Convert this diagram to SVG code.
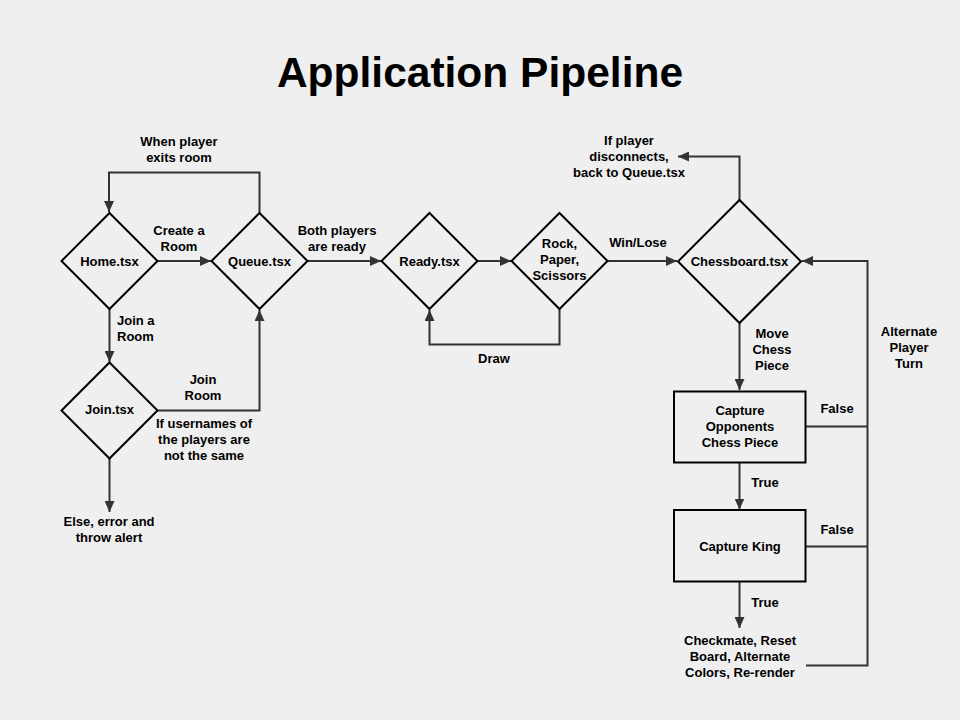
<svg xmlns="http://www.w3.org/2000/svg" width="960" height="720" viewBox="0 0 960 720">
<style>
text{font-family:"Liberation Sans",Arial,sans-serif;font-weight:bold;font-size:13px;fill:#000;text-anchor:middle}
.title{font-size:42.5px}
.node{fill:none;stroke:#000;stroke-width:2}
.c{fill:none;stroke:#333;stroke-width:2}
.lbl text{fill:#000}
</style>
<defs>
<marker id="a" markerUnits="userSpaceOnUse" markerWidth="12" markerHeight="10" refX="11" refY="5" orient="auto">
<path d="M0,0 L11,5 L0,10 Z" fill="#333"/>
</marker>
</defs>
<rect width="960" height="720" fill="#efefef"/>
<text class="title" x="480" y="87">Application Pipeline</text>

<g id="connectors">
<path class="c" d="M259.5,213 V172.5 H109 V212" marker-end="url(#a)"/>
<path class="c" d="M157.5,261 H211" marker-end="url(#a)"/>
<path class="c" d="M307.5,261 H381" marker-end="url(#a)"/>
<path class="c" d="M109.5,309 V362" marker-end="url(#a)"/>
<path class="c" d="M157.5,410.5 H259.5 V310" marker-end="url(#a)"/>
<path class="c" d="M109.5,458.5 V512" marker-end="url(#a)"/>
<path class="c" d="M477.5,261 H511" marker-end="url(#a)"/>
<path class="c" d="M559.5,309 V344.5 H429.5 V310" marker-end="url(#a)"/>
<path class="c" d="M607.5,261 H677" marker-end="url(#a)"/>
<path class="c" d="M739.5,200 V156.5 H678" marker-end="url(#a)"/>
<path class="c" d="M739.5,323 V390" marker-end="url(#a)"/>
<path class="c" d="M739.5,462.5 V509.5" marker-end="url(#a)"/>
<path class="c" d="M739.5,582 V628" marker-end="url(#a)"/>
<path class="c" d="M806,426.5 H867.5"/>
<path class="c" d="M806,546.5 H867.5"/>
<path class="c" d="M806,665.5 H867.5 V261 H802" marker-end="url(#a)"/>
</g>

<g id="labels" class="lbl">
<text x="179" y="146">When player</text>
<text x="179" y="162">exits room</text>
<text x="179" y="235">Create a</text>
<text x="179" y="251">Room</text>
<text x="337" y="235">Both players</text>
<text x="337" y="251">are ready</text>
<text x="117" y="325" style="text-anchor:start">Join a</text>
<text x="117" y="341" style="text-anchor:start">Room</text>
<text x="203" y="384">Join</text>
<text x="203" y="400">Room</text>
<text x="204" y="428">If usernames of</text>
<text x="204" y="444">the players are</text>
<text x="204" y="460">not the same</text>
<text x="109" y="526">Else, error and</text>
<text x="109" y="542">throw alert</text>
<text x="494" y="363">Draw</text>
<text x="638" y="247">Win/Lose</text>
<text x="629" y="145">If player</text>
<text x="629" y="161">disconnects,</text>
<text x="629" y="177">back to Queue.tsx</text>
<text x="772" y="338">Move</text>
<text x="772" y="354">Chess</text>
<text x="772" y="370">Piece</text>
<text x="909" y="336">Alternate</text>
<text x="909" y="352">Player</text>
<text x="909" y="368">Turn</text>
<text x="837" y="413">False</text>
<text x="837" y="534">False</text>
<text x="765" y="487">True</text>
<text x="765" y="607">True</text>
<text x="740" y="645">Checkmate, Reset</text>
<text x="740" y="661">Board, Alternate</text>
<text x="740" y="677">Colors, Re-render</text>
</g>

<g id="home">
<path class="node" d="M109.5,213 L157.5,261 L109.5,309 L61.5,261 Z"/>
<text x="109.5" y="265.5">Home.tsx</text>
</g>
<g id="queue">
<path class="node" d="M259.5,213 L307.5,261 L259.5,309 L211.5,261 Z"/>
<text x="259.5" y="265.5">Queue.tsx</text>
</g>
<g id="join">
<path class="node" d="M109.5,362.5 L157.5,410.5 L109.5,458.5 L61.5,410.5 Z"/>
<text x="109.5" y="414">Join.tsx</text>
</g>
<g id="ready">
<path class="node" d="M429.5,213 L477.5,261 L429.5,309 L381.5,261 Z"/>
<text x="429.5" y="265.5">Ready.tsx</text>
</g>
<g id="rps">
<path class="node" d="M559.5,213 L607.5,261 L559.5,309 L511.5,261 Z"/>
<text x="559.5" y="248">Rock,</text>
<text x="559.5" y="264">Paper,</text>
<text x="559.5" y="280">Scissors</text>
</g>
<g id="chessboard">
<path class="node" d="M739.5,200 L801,261.5 L739.5,323 L678,261.5 Z"/>
<text x="739.5" y="266">Chessboard.tsx</text>
</g>
<g id="capture-piece">
<rect class="node" x="674" y="391.5" width="131.5" height="71"/>
<text x="740" y="414.5">Capture</text>
<text x="740" y="430.5">Opponents</text>
<text x="740" y="446.5">Chess Piece</text>
</g>
<g id="capture-king">
<rect class="node" x="674" y="510" width="131.5" height="71.5"/>
<text x="740" y="550.5">Capture King</text>
</g>
</svg>
